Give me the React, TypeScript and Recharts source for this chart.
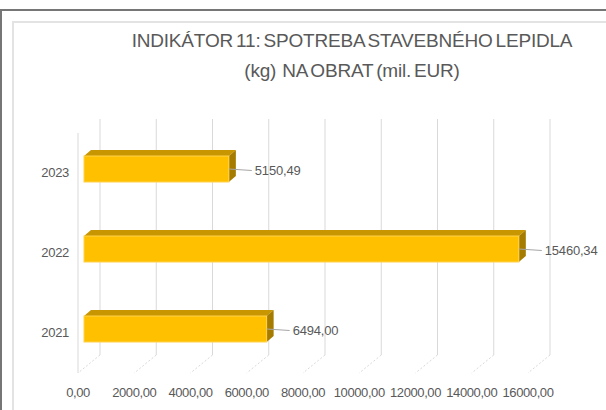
import React from "react";
import { BarChart, Bar, XAxis, YAxis, CartesianGrid, LabelList } from "recharts";

const years = ["2023", "2022", "2021"];
const values = [5150.49, 15460.34, 6494.0];
const xTicks = [0, 2000, 4000, 6000, 8000, 10000, 12000, 14000, 16000];

const data = years.map((year, i) => ({ year, value: values[i] }));

const FONT = "'Liberation Sans', Arial, sans-serif";
const TEXT = "#595959";
const GRID = "#d9d9d9";

const fmt = (v: number) => v.toFixed(2).replace(".", ",");

// back wall line + floor diagonal for each x tick
const GridLine = (p: any) => {
  const { x1, y1, y2, index } = p;
  const bx = x1 + 16;
  return (
    <g>
      <line x1={bx} y1={y1 - 10} x2={bx} y2={y2 - 14} stroke={GRID} />
      <line x1={bx} y1={y2 - 14} x2={x1 - 6} y2={y2 + 4} stroke={GRID} strokeDasharray="2 2" />
      {index === 0 && <line x1={x1 - 6} y1={y1 + 4} x2={x1 - 6} y2={y2 + 4} stroke={GRID} />}
    </g>
  );
};

const XTick = (p: any) => (
  <text x={p.x - 6} y={p.y + 26} textAnchor="middle" fill={TEXT} fontSize={13} letterSpacing={-0.4} fontFamily={FONT}>
    {fmt(p.payload.value)}
  </text>
);

const YTick = (p: any) => (
  <text x={p.x - 13} y={p.y + 8} textAnchor="end" fill={TEXT} fontSize={13} letterSpacing={-0.3} fontFamily={FONT}>
    {p.payload.value}
  </text>
);

const Box = (p: any) => {
  const { x, y, width: w, height: h } = p;
  const dx = 7;
  const dy = 6;
  return (
    <g>
      <polygon points={`${x},${y} ${x + dx},${y - dy} ${x + w + dx},${y - dy} ${x + w},${y}`} fill="#C89600" />
      <polygon points={`${x + w},${y} ${x + w + dx},${y - dy} ${x + w + dx},${y + h - dy} ${x + w},${y + h}`} fill="#A67C00" />
      <rect x={x} y={y} width={w} height={h} fill="#FFC000" stroke="#FFD24D" strokeWidth={1} />
    </g>
  );
};

const ValueLabel = (p: any) => {
  const { x, y, width, height, value } = p;
  const sx = x + width;
  const sy = y + height / 2;
  return (
    <g>
      <line x1={sx} y1={sy} x2={sx + 23} y2={sy + 1.5} stroke="#a6a6a6" />
      <text x={sx + 26} y={sy + 6} fill={TEXT} fontSize={13} letterSpacing={-0.2} fontFamily={FONT}>
        {fmt(Number(value))}
      </text>
    </g>
  );
};

const titleStyle: React.CSSProperties = {
  position: "absolute",
  left: 0,
  width: 704,
  textAlign: "center",
  fontSize: 19,
  lineHeight: "20px",
  color: TEXT,
  letterSpacing: -0.2,
  wordSpacing: -2,
  whiteSpace: "nowrap",
};

export default function App() {
  return (
    <div style={{ position: "absolute", left: 0, top: 0, width: 606, height: 410, overflow: "hidden", background: "#fff", fontFamily: FONT }}>
      <div style={{ position: "absolute", left: 0, top: 9, width: 700, height: 500, borderLeft: "2px solid #767676", borderTop: "2px solid #767676" }} />
      <div style={{ position: "absolute", left: 12, top: 21, width: 700, height: 500, borderLeft: "2px solid #e3e3e3", borderTop: "2px solid #e3e3e3" }} />
      <div style={{ ...titleStyle, top: 31 }}>INDIKÁTOR 11: SPOTREBA STAVEBNÉHO LEPIDLA</div>
      <div style={{ ...titleStyle, top: 61 }}>(kg)&nbsp; NA OBRAT (mil. EUR)</div>
      <div style={{ position: "absolute", left: 0, top: 0 }}>
        <BarChart
          width={606}
          height={410}
          data={data}
          layout="vertical"
          margin={{ top: 129, right: 72, bottom: 11, left: 34 }}
        >
          <CartesianGrid horizontal={false} vertical={GridLine} />
          <XAxis
            type="number"
            domain={[0, 16000]}
            ticks={xTicks}
            interval={0}
            axisLine={false}
            tickLine={false}
            tickSize={0}
            height={30}
            tick={XTick}
          />
          <YAxis
            type="category"
            dataKey="year"
            axisLine={false}
            tickLine={false}
            tickSize={0}
            width={50}
            tick={YTick}
          />
          <Bar dataKey="value" barSize={26} shape={Box} isAnimationActive={false}>
            <LabelList dataKey="value" content={ValueLabel} />
          </Bar>
        </BarChart>
      </div>
    </div>
  );
}
